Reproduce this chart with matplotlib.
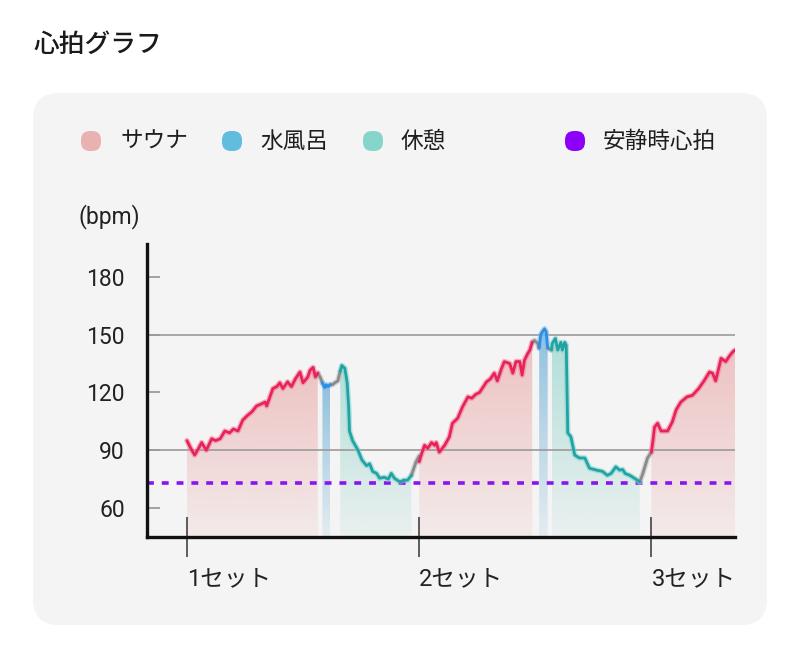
import numpy as np
import matplotlib
matplotlib.use("Agg")
import matplotlib.pyplot as plt
from matplotlib.patches import FancyBboxPatch
from matplotlib.colors import to_rgb

plt.rcParams['font.family'] = ['Noto Sans CJK JP', 'DejaVu Sans']

# ---------------- data ----------------
title = "心拍グラフ"
legend_labels = ["サウナ", "水風呂", "休憩", "安静時心拍"]
y_label = "(bpm)"
y_ticks = [60, 90, 120, 150, 180]
grid_values = [90, 150]
x_tick_pos = [0, 30, 60]
x_tick_labels = ["1セット", "2セット", "3セット"]
resting_hr = 73

sauna1_t = [0, 0.5, 1.0, 1.5, 1.9, 2.5, 3.2, 3.7, 4.3, 4.9, 5.5, 6.0, 6.6, 7.2, 7.8, 8.4, 9.0,
            9.6, 10.1, 10.3, 11.1, 11.6, 12.0, 12.4, 13.0, 13.5, 14.0, 14.6, 15.0, 15.6, 15.9,
            16.3, 16.6, 16.9]
sauna1_hr = [95, 91, 87.5, 91, 94, 90, 96, 95, 96, 100, 99, 101, 100, 105.6, 108, 110, 113,
             114, 115, 113, 122, 123, 125, 122, 125.5, 123, 127, 130.6, 125, 128, 131.5,
             133, 128, 130]
gray1a_t = [16.9, 17.2, 17.5]
gray1a_hr = [130, 128, 125]
cold1_t = [17.5, 17.8, 18.0, 18.2, 18.5]
cold1_hr = [125, 122.5, 124, 123, 124]
gray1b_t = [18.5, 18.8, 19.1, 19.5, 19.8]
gray1b_hr = [124, 124, 125, 126, 131]
rest1_t = [19.8, 20.0, 20.4, 20.7, 20.9, 21.0, 21.4, 22.1, 22.6, 23.2, 23.6, 24.0, 24.5, 24.9,
           25.5, 26.0, 26.4, 26.8, 27.5, 28.0, 28.5, 29.0]
rest1_hr = [131, 134, 132.5, 125, 112, 100, 95, 90, 85, 82, 83, 79, 78, 75.5,
            76, 75, 78, 75.5, 73.6, 74.5, 74.5, 77]
gray2a_t = [29.0, 29.6, 30.0]
gray2a_hr = [77, 84, 87]
sauna2_t = [30.0, 30.3, 30.7, 31.1, 31.6, 32.0, 32.2, 32.6, 33.3, 33.9, 34.3, 34.97, 35.6, 36.3,
            36.8, 37.3, 37.8, 38.3, 38.7, 39.2, 39.7, 40.1, 40.6, 41.0, 41.7, 42.1, 42.5, 43.0,
            43.3, 43.6, 44.0, 44.3, 44.6]
sauna2_hr = [84, 88, 92.6, 91, 94, 92.6, 94, 89, 92.6, 97, 104, 106.6, 112.5, 117.7,
             117, 119, 120, 123, 125.5, 127, 130, 126, 132, 136, 135, 130, 136, 136,
             129, 136.7, 140, 142, 146]
gray2b_t = [44.6, 44.9, 45.3, 45.5]
gray2b_hr = [146, 147, 145.5, 143]
cold2_t = [45.5, 45.7, 46.0, 46.2, 46.4, 46.6]
cold2_hr = [143, 150, 152, 153, 151.5, 143]
gray2c_t = [46.6, 47.1]
gray2c_hr = [143, 142]
rest2_t = [47.1, 47.2, 47.6, 47.9, 48.3, 48.5, 48.8, 49.0, 49.2, 49.6, 50.1, 50.7, 51.4, 52.0,
           52.9, 53.7, 54.3, 54.8, 55.4, 55.9, 56.3, 56.6, 57.2, 57.8, 58.5]
rest2_hr = [142, 145.5, 148, 142, 146, 142, 146, 144.5, 99, 97, 87.5, 86, 86, 80.7,
            79.7, 79, 77, 78, 81.4, 79.7, 80, 78, 77, 75.5, 73.6]
gray3_t = [58.5, 58.9, 59.5, 60.0]
gray3_hr = [73.6, 78, 86, 89]
sauna3_t = [60.0, 60.2, 60.4, 60.8, 61.25, 61.7, 62.1, 62.7, 63.2, 63.8, 64.6, 65.3, 66.1, 66.8,
            67.5, 67.9, 68.3, 69.0, 69.6, 70.1, 70.5, 70.8]
sauna3_hr = [89, 95, 102, 104, 100, 100, 100, 104.7, 111, 115, 117.7, 118.5, 122, 126,
             130.6, 130, 126, 137.7, 136, 139, 141, 142]

# ---------------- style ----------------
C_SAUNA_LINE, C_SAUNA_HALO, C_SAUNA_FILL = '#e8235b', '#f27d98', '#e06a6a'
C_COLD_LINE, C_COLD_HALO, C_COLD_FILL = '#2b8fe6', '#7fbdf0', '#4a9fd0'
C_REST_LINE, C_REST_HALO, C_REST_FILL = '#1fa3a3', '#7fd0cc', '#3cb8a8'
C_GRAY = '#8a8a8a'
C_REST_HR = '#8a14f0'
LEGEND_COLORS = ['#e9b1b0', '#62bcdd', '#86d5cb', '#8c00fa']

YMIN, YMAX = 45, 197
XMIN, XMAX = -5.16, 70.8

fig = plt.figure(figsize=(8, 6.64), dpi=100)
fig.patch.set_facecolor('white')

bg = fig.add_axes([0, 0, 1, 1], zorder=0)
bg.set_xlim(0, 800)
bg.set_ylim(664, 0)
bg.axis('off')
bg.add_patch(FancyBboxPatch((33, 93), 734, 532, boxstyle="round,pad=0,rounding_size=26",
                            fc='#f5f4f4', ec='none'))
bg.text(33, 44, title, fontsize=18.5, va='center', ha='left', color='#1a1a1a', weight='medium')

legend_dot_x = [91, 232, 373, 575]
legend_text_x = [120, 260, 401, 603]
for cx, tx, col, lab in zip(legend_dot_x, legend_text_x, LEGEND_COLORS, legend_labels):
    bg.add_patch(FancyBboxPatch((cx - 10, 131), 20, 20, boxstyle="round,pad=0,rounding_size=9",
                                fc=col, ec='none'))
    bg.text(tx, 141.5, lab, fontsize=16.3, va='center', ha='left', color='#1e1e1e')

bg.text(78, 217, y_label, fontsize=16.5, va='center', ha='left', color='#222222',
        family=['Roboto', 'Noto Sans CJK JP'])

ax = fig.add_axes([147 / 800, 127 / 664, 588 / 800, 293 / 664], zorder=1)
ax.patch.set_alpha(0)


def grad_fill(t, hr, color, a_top, a_bot):
    poly = ax.fill_between(t, hr, YMIN, facecolor='none', edgecolor='none')
    r, g, b = to_rgb(color)
    n = 256
    img = np.zeros((n, 1, 4))
    img[..., 0], img[..., 1], img[..., 2] = r, g, b
    img[:, 0, 3] = np.linspace(a_bot, a_top, n)
    im = ax.imshow(img, extent=[t[0], t[-1], YMIN, max(hr)], origin='lower', aspect='auto',
                   zorder=1, interpolation='bilinear')
    im.set_clip_path(poly.get_paths()[0], transform=ax.transData)


def line(t, hr, c, halo=None):
    if halo:
        ax.plot(t, hr, color=halo, lw=4.0, alpha=0.55, zorder=4, solid_capstyle='round',
                solid_joinstyle='round')
    ax.plot(t, hr, color=c, lw=2.0, zorder=5, solid_capstyle='round', solid_joinstyle='round')


for t, hr in [(sauna1_t, sauna1_hr), (sauna2_t, sauna2_hr), (sauna3_t, sauna3_hr)]:
    grad_fill(t, hr, C_SAUNA_FILL, 0.36, 0.07)
for t, hr in [(cold1_t, cold1_hr), (cold2_t, cold2_hr)]:
    grad_fill(t, hr, C_COLD_FILL, 0.6, 0.1)
for t, hr in [(rest1_t, rest1_hr), (rest2_t, rest2_hr)]:
    grad_fill(t, hr, C_REST_FILL, 0.36, 0.06)

for v in grid_values:
    ax.axhline(v, color='#9a9a9a', lw=1.2, zorder=2)
ax.axhline(resting_hr, color=C_REST_HR, lw=2.6, ls=(0, (1.9, 2.2)), zorder=3)

for t, hr in [(gray1a_t, gray1a_hr), (gray1b_t, gray1b_hr), (gray2a_t, gray2a_hr),
              (gray2b_t, gray2b_hr), (gray2c_t, gray2c_hr), (gray3_t, gray3_hr)]:
    line(t, hr, C_GRAY, '#bbbbbb')
for t, hr in [(sauna1_t, sauna1_hr), (sauna2_t, sauna2_hr), (sauna3_t, sauna3_hr)]:
    line(t, hr, C_SAUNA_LINE, C_SAUNA_HALO)
for t, hr in [(cold1_t, cold1_hr), (cold2_t, cold2_hr)]:
    line(t, hr, C_COLD_LINE, C_COLD_HALO)
for t, hr in [(rest1_t, rest1_hr), (rest2_t, rest2_hr)]:
    line(t, hr, C_REST_LINE, C_REST_HALO)

ax.set_xlim(XMIN, XMAX)
ax.set_ylim(YMIN, YMAX)

ax.set_yticks(y_ticks)
ax.set_yticklabels([str(v) for v in y_ticks], fontsize=16.5, color='#222222',
                   family=['Roboto', 'Noto Sans CJK JP'])
ax.tick_params(axis='y', direction='in', length=9, width=1.1, color='#8c8c8c', pad=16)
ax.set_xticks(x_tick_pos)
ax.set_xticklabels(x_tick_labels, ha='left', fontsize=17, color='#222222',
                   family=['Roboto', 'Noto Sans CJK JP'])
ax.tick_params(axis='x', direction='inout', length=29, width=1.1, color='#333333', pad=7)

for s in ['top', 'right']:
    ax.spines[s].set_visible(False)
for s in ['left', 'bottom']:
    ax.spines[s].set_linewidth(2.4)
    ax.spines[s].set_color('#111111')
    ax.spines[s].set_zorder(6)

fig.savefig('out.png', dpi=100, facecolor='white')
